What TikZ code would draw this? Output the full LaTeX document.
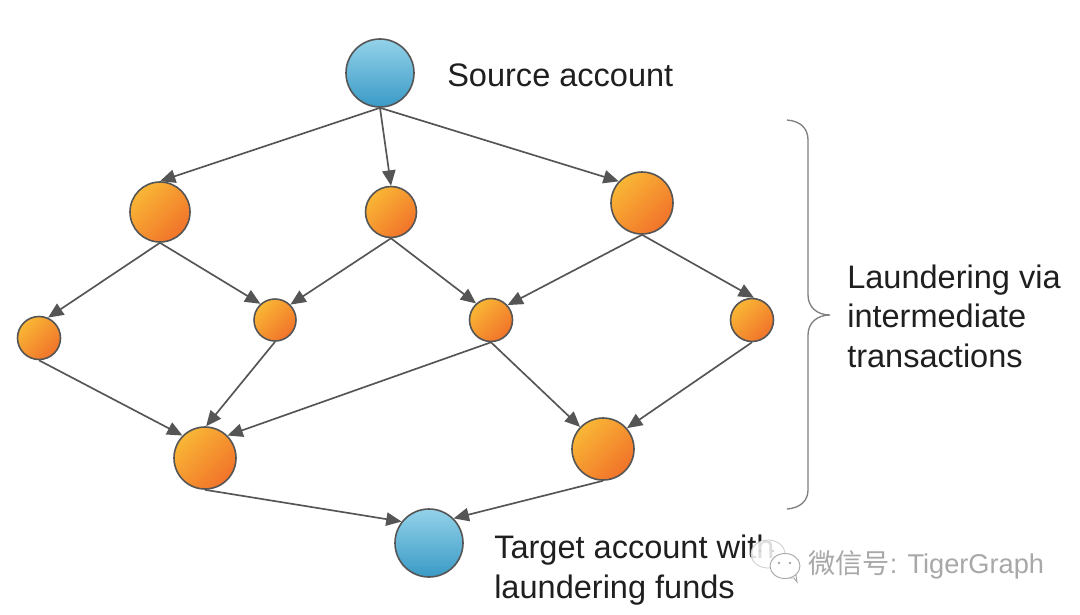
\documentclass[tikz,border=0pt]{standalone}
\usepackage{fontspec}
\setmainfont{Liberation Sans}
\newfontfamily\cjkfont{Noto Sans CJK SC}
\usetikzlibrary{arrows.meta}
\definecolor{edgegray}{HTML}{555555}
\definecolor{blueA}{HTML}{93D2E9}
\definecolor{blueB}{HTML}{3A9AC6}
\definecolor{orangeA}{HTML}{F9B635}
\definecolor{orangeB}{HTML}{F1732A}
\definecolor{markgray}{HTML}{A8A8A8}
\tikzset{
  x=0.75pt,y=-0.75pt,
  acct/.style={circle,draw=edgegray,line width=1.2pt,inner sep=0pt,minimum size=#1*1.5pt,top color=blueA,bottom color=blueB},
  mule/.style={circle,draw=edgegray,line width=1.2pt,inner sep=0pt,minimum size=#1*1.5pt,left color=orangeA,right color=orangeB,shading angle=45},
  flow/.style={draw=edgegray,line width=1.25pt,-{Triangle[length=11.5pt,width=10pt]}},
  lbl/.style={anchor=west,inner sep=0pt,align=left,text=black!88,font=\fontsize{24.4}{29.6}\selectfont},
  wmtext/.style={anchor=west,inner sep=0pt,text=markgray,font=\fontsize{20.4}{24}\selectfont},
  bubble/.style={draw=markgray,fill=white,line width=.7pt},
}
\begin{document}
\begin{tikzpicture}
\useasboundingbox (0,0) rectangle (1080,614);
\fill[white] (0,0) rectangle (1080,614);

\node[acct=34] (S) at (380,73) {};
\node[mule=30] (A) at (160,212) {};
\node[mule=25.5] (B) at (391,212) {};
\node[mule=31] (C) at (642,203) {};
\node[mule=21.5] (D) at (39,338) {};
\node[mule=21] (E) at (275,320) {};
\node[mule=21.5] (F) at (491,320) {};
\node[mule=21.5] (G) at (752,320) {};
\node[mule=31] (H) at (205,458) {};
\node[mule=31] (I) at (603,449) {};
\node[acct=34] (T) at (429,543) {};

\draw[flow] (S.south) -- (A.north);
\draw[flow] (S.south) -- (B.north);
\draw[flow] (S.south) -- (C.137);
\draw[flow] (A.south) -- (D.66);
\draw[flow] (A.south) -- (E.132);
\draw[flow] (B.south) -- (E.45);
\draw[flow] (B.south) -- (F.132);
\draw[flow] (C.south) -- (F.42);
\draw[flow] (C.south) -- (G.85);
\draw[flow] (D.south) -- (H.135);
\draw[flow] (E.south) -- (H.88);
\draw[flow] (F.south) -- (H.45);
\draw[flow] (F.south) -- (I.136);
\draw[flow] (G.south) -- (I.41);
\draw[flow] (H.south) -- (T.142);
\draw[flow] (I.south) -- (T.45);

\node[lbl] (srcl) at (447,75) {Source account};
\node[lbl] (midl) at (847,316) {Laundering via\\intermediate\\transactions};
\node[lbl] (tgtl) at (494,570) {Target account with\\laundering funds};

\coordinate (b1) at (787,120);
\coordinate (b2) at (808,140);
\coordinate (b3) at (808,295);
\coordinate (b4) at (830,315);
\coordinate (b5) at (808,335);
\coordinate (b6) at (808,490);
\coordinate (b7) at (787,509);
\draw[gray,line width=1pt]
  (b1) .. controls (800,121) and (808,128) .. (b2) -- (b3)
  .. controls (808,307) and (817,315) .. (b4)
  .. controls (817,315) and (808,323) .. (b5) -- (b6)
  .. controls (808,501) and (800,508) .. (b7);

% watermark: speech bubbles and text
\draw[draw=markgray!60,fill=white,fill opacity=.85,line width=.6pt] (768,554) ellipse (17 and 14);
\fill[markgray!60] (760,551) circle (1.2) (773,551) circle (1.2);
\draw[bubble] (776,575) -- (785,578) -- (794,578) -- (797,582) -- (796,575) -- cycle;
\draw[bubble] (785,566) ellipse (15 and 12.5);
\fill[markgray] (779,563) circle (1.3) (790,563) circle (1.3);
\node[wmtext] (wm) at (808,565) {{\cjkfont 微信号}: TigerGraph};
\end{tikzpicture}
\end{document}
